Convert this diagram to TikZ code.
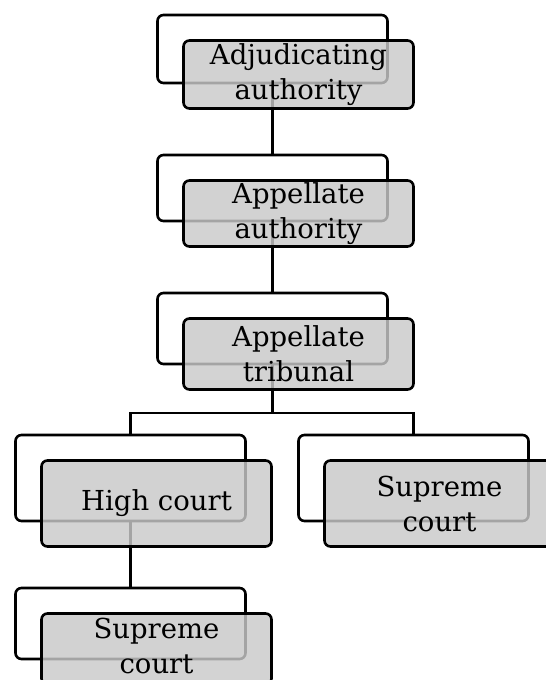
\documentclass[tikz,border=0pt]{standalone}
\usepackage{fontspec}
\setmainfont{DejaVu Serif}
\usetikzlibrary{positioning}

\begin{document}
\begin{tikzpicture}[
  x=1pt, y=-1pt,
  node distance=72pt,
  back/.style={rectangle, draw, line width=2.6pt, rounded corners=6pt, fill=white, minimum width=230pt, inner sep=0pt, outer sep=0pt},
  front/.style={rectangle, draw, line width=2.6pt, rounded corners=6pt, fill=black!21, fill opacity=0.82, text opacity=1,
                minimum width=230pt, inner sep=2pt, align=center, font=\fontsize{27.5}{35}\selectfont,
                xshift=26pt, yshift=-25.5pt},
  every edge/.style={draw, line width=2.4pt}
]
\clip (0,0) rectangle (546,680);

% Back boxes: the chain of appeal
\node[back, minimum height=68pt] (ADJ_BACK) at (272.5,49) {};
\node[back, minimum height=66pt, below=of ADJ_BACK] (APA_BACK) {};
\node[back, minimum height=71pt, below=of APA_BACK] (TRIB_BACK) {};

% Back boxes: the two ways out of the tribunal
\node[back, minimum height=86pt, below=71pt of TRIB_BACK, xshift=-142pt] (HIGH_BACK) {};
\node[back, minimum height=86pt, below=71pt of TRIB_BACK, xshift=141pt] (SUPA_BACK) {};
\node[back, minimum height=71pt, below=67pt of HIGH_BACK] (SUPB_BACK) {};

% Connectors
\path (ADJ_BACK.south) edge (APA_BACK.north);
\path (APA_BACK.south) edge (TRIB_BACK.north);
\coordinate[below=49pt of TRIB_BACK] (SPLIT);
\draw[line width=2.4pt] (TRIB_BACK.south) -- (SPLIT) -| (HIGH_BACK.north);
\draw[line width=2.4pt] (SPLIT) -| (SUPA_BACK.north);
\path (HIGH_BACK.south) edge (SUPB_BACK.north);

% Front boxes with the labels
\node[front, minimum height=68pt] (ADJ) at (ADJ_BACK) {Adjudicating\\authority};
\node[front, minimum height=66pt] (APA) at (APA_BACK) {Appellate\\authority};
\node[front, minimum height=71pt] (TRIB) at (TRIB_BACK) {Appellate\\tribunal};
\node[front, minimum height=86pt] (HIGH) at (HIGH_BACK) {High court};
\node[front, minimum height=86pt] (SUPA) at (SUPA_BACK) {Supreme\\court};
% bottom box runs off the page, so its text is lifted a little
\node[front, minimum height=71pt, text depth=6pt] (SUPB) at (SUPB_BACK) {Supreme\\court};

\end{tikzpicture}
\end{document}
